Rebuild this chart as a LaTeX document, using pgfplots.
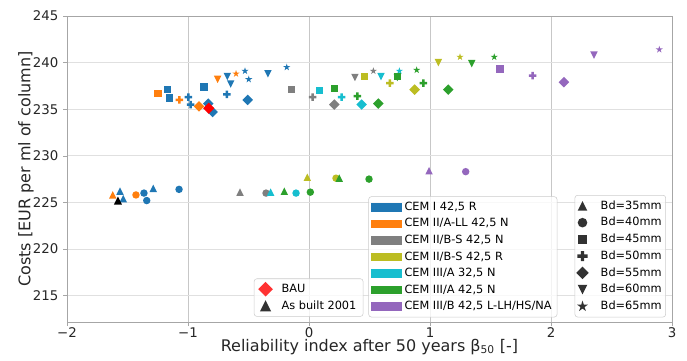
\documentclass[border=0pt]{standalone}
\usepackage{fontspec}
\setmainfont{DejaVu Sans}
\usepackage{pgfplots}
\pgfplotsset{compat=1.18}
\definecolor{tabblue}{HTML}{1F77B4}
\definecolor{taborange}{HTML}{FF7F0E}
\definecolor{tabgray}{HTML}{7F7F7F}
\definecolor{tabolive}{HTML}{BCBD22}
\definecolor{tabcyan}{HTML}{17BECF}
\definecolor{tabgreen}{HTML}{2CA02C}
\definecolor{tabpurple}{HTML}{9467BD}

\pgfdeclareplotmark{mtri}{%
  \pgfpathmoveto{\pgfqpoint{0pt}{\pgfplotmarksize}}%
  \pgfpathlineto{\pgfqpoint{-\pgfplotmarksize}{-\pgfplotmarksize}}%
  \pgfpathlineto{\pgfqpoint{\pgfplotmarksize}{-\pgfplotmarksize}}%
  \pgfpathclose\pgfusepathqfill}
\pgfdeclareplotmark{mtridown}{%
  \pgfpathmoveto{\pgfqpoint{0pt}{-\pgfplotmarksize}}%
  \pgfpathlineto{\pgfqpoint{-\pgfplotmarksize}{\pgfplotmarksize}}%
  \pgfpathlineto{\pgfqpoint{\pgfplotmarksize}{\pgfplotmarksize}}%
  \pgfpathclose\pgfusepathqfill}
\pgfdeclareplotmark{msq}{%
  \pgfpathrectanglecorners{\pgfqpoint{-\pgfplotmarksize}{-\pgfplotmarksize}}{\pgfqpoint{\pgfplotmarksize}{\pgfplotmarksize}}%
  \pgfusepathqfill}
\pgfdeclareplotmark{mcirc}{%
  \pgfpathcircle{\pgfpointorigin}{\pgfplotmarksize}\pgfusepathqfill}
\pgfdeclareplotmark{mdiam}{%
  \pgfpathmoveto{\pgfqpoint{0pt}{1.414\pgfplotmarksize}}%
  \pgfpathlineto{\pgfqpoint{1.414\pgfplotmarksize}{0pt}}%
  \pgfpathlineto{\pgfqpoint{0pt}{-1.414\pgfplotmarksize}}%
  \pgfpathlineto{\pgfqpoint{-1.414\pgfplotmarksize}{0pt}}%
  \pgfpathclose\pgfusepathqfill}
\pgfdeclareplotmark{mplus}{%
  \pgfpathmoveto{\pgfqpoint{-0.333\pgfplotmarksize}{\pgfplotmarksize}}%
  \pgfpathlineto{\pgfqpoint{0.333\pgfplotmarksize}{\pgfplotmarksize}}%
  \pgfpathlineto{\pgfqpoint{0.333\pgfplotmarksize}{0.333\pgfplotmarksize}}%
  \pgfpathlineto{\pgfqpoint{\pgfplotmarksize}{0.333\pgfplotmarksize}}%
  \pgfpathlineto{\pgfqpoint{\pgfplotmarksize}{-0.333\pgfplotmarksize}}%
  \pgfpathlineto{\pgfqpoint{0.333\pgfplotmarksize}{-0.333\pgfplotmarksize}}%
  \pgfpathlineto{\pgfqpoint{0.333\pgfplotmarksize}{-\pgfplotmarksize}}%
  \pgfpathlineto{\pgfqpoint{-0.333\pgfplotmarksize}{-\pgfplotmarksize}}%
  \pgfpathlineto{\pgfqpoint{-0.333\pgfplotmarksize}{-0.333\pgfplotmarksize}}%
  \pgfpathlineto{\pgfqpoint{-\pgfplotmarksize}{-0.333\pgfplotmarksize}}%
  \pgfpathlineto{\pgfqpoint{-\pgfplotmarksize}{0.333\pgfplotmarksize}}%
  \pgfpathlineto{\pgfqpoint{-0.333\pgfplotmarksize}{0.333\pgfplotmarksize}}%
  \pgfpathclose\pgfusepathqfill}
\pgfdeclareplotmark{mstar}{%
  \pgfpathmoveto{\pgfqpointpolar{90}{\pgfplotmarksize}}%
  \pgfpathlineto{\pgfqpointpolar{126}{0.382\pgfplotmarksize}}%
  \pgfpathlineto{\pgfqpointpolar{162}{\pgfplotmarksize}}%
  \pgfpathlineto{\pgfqpointpolar{198}{0.382\pgfplotmarksize}}%
  \pgfpathlineto{\pgfqpointpolar{234}{\pgfplotmarksize}}%
  \pgfpathlineto{\pgfqpointpolar{270}{0.382\pgfplotmarksize}}%
  \pgfpathlineto{\pgfqpointpolar{306}{\pgfplotmarksize}}%
  \pgfpathlineto{\pgfqpointpolar{342}{0.382\pgfplotmarksize}}%
  \pgfpathlineto{\pgfqpointpolar{18}{\pgfplotmarksize}}%
  \pgfpathlineto{\pgfqpointpolar{54}{0.382\pgfplotmarksize}}%
  \pgfpathclose\pgfusepathqfill}

\newcommand{\pts}[3]{\addplot[only marks, mark=#2, color=#1, mark size=2.8pt, forget plot] coordinates {#3};}

\pgfplotsset{
  patch/.style={legend image code/.code={\fill[#1, sharp corners, fill opacity=1] (0pt,-2.8pt) rectangle (22.5pt,2.8pt);}},
  mylegend/.style={legend style={font=\fontsize{8.5}{10}\selectfont, draw=black!20, rounded corners=2pt,
      fill=white, fill opacity=0.8, draw opacity=1, text opacity=1, row sep=0.6pt, inner xsep=2pt, inner ysep=2pt}},
  base/.style={scale only axis, width=453.75pt, height=229.5pt, xmin=-2, xmax=3, ymin=212.17, ymax=245},
}

\begin{document}
\begin{tikzpicture}
\begin{axis}[base, name=main,
  xtick={-2,-1,0,1,2,3}, xticklabels={−2,−1,0,1,2,3},
  ytick={215,220,225,230,235,240,245},
  /pgf/number format/assume math mode=true,
  tick label style={font=\fontsize{10}{12}\selectfont, text=black!85},
  xticklabel style={yshift=2pt},
  label style={font=\fontsize{12}{14}\selectfont, text=black!85},
  xlabel={Reliability index after 50 years β\textsubscript{50} [-]},
  ylabel={Costs [EUR per ml of column]},
  xlabel style={yshift=6pt},
  ylabel style={yshift=-7.5pt},
  xmajorgrids, ymajorgrids,
  x grid style={black!22, line width=0.6pt},
  y grid style={black!12, line width=0.6pt},
  axis line style={black!35},
  tick align=outside, major tick length=3pt, tick style={black!35},
  xtick pos=bottom, ytick pos=left,
  legend cell align=left,
  mylegend,
  legend style={at={(0.8104,0.0154)}, anchor=south east},
]
% CEM I 42,5 R
\pts{tabblue}{mtri}{(-1.562,226.2) (-1.535,225.4) (-1.287,226.5)}
\pts{tabblue}{mcirc}{(-1.364,226.0) (-1.341,225.2) (-1.074,226.4)}
\pts{tabblue}{msq}{(-1.171,237.1) (-1.154,236.2) (-0.868,237.4)}
\pts{tabblue}{mplus}{(-0.997,236.3) (-0.978,235.5) (-0.678,236.6)}
\pts{tabblue}{mdiam}{(-0.832,235.6) (-0.796,234.7) (-0.507,236.0)}
\pts{tabblue}{mtridown}{(-0.675,238.5) (-0.647,237.7) (-0.339,238.8)}
\pts{tabblue}{mstar}{(-0.529,239.1) (-0.498,238.2) (-0.184,239.5)}
% CEM II/A-LL 42,5 N
\pts{taborange}{mtri}{(-1.622,225.8)}
\pts{taborange}{mcirc}{(-1.430,225.8)}
\pts{taborange}{msq}{(-1.248,236.7)}
\pts{taborange}{mplus}{(-1.072,236.0)}
\pts{taborange}{mdiam}{(-0.909,235.3)}
\pts{taborange}{mtridown}{(-0.755,238.2)}
\pts{taborange}{mstar}{(-0.603,238.8)}
% CEM II/B-S 42,5 N
\pts{tabgray}{mtri}{(-0.570,226.1)}
\pts{tabgray}{mcirc}{(-0.355,226.0)}
\pts{tabgray}{msq}{(-0.143,237.1)}
\pts{tabgray}{mplus}{(0.030,236.3)}
\pts{tabgray}{mdiam}{(0.209,235.5)}
\pts{tabgray}{mtridown}{(0.380,238.4)}
\pts{tabgray}{mstar}{(0.532,239.1)}
% CEM II/B-S 42,5 R
\pts{tabolive}{mtri}{(-0.014,227.7)}
\pts{tabolive}{mcirc}{(0.223,227.6)}
\pts{tabolive}{msq}{(0.457,238.5)}
\pts{tabolive}{mplus}{(0.669,237.8)}
\pts{tabolive}{mdiam}{(0.873,237.1)}
\pts{tabolive}{mtridown}{(1.069,240.0)}
\pts{tabolive}{mstar}{(1.248,240.6)}
% CEM III/A 32,5 N
\pts{tabcyan}{mtri}{(-0.317,226.1)}
\pts{tabcyan}{mcirc}{(-0.107,226.0)}
\pts{tabcyan}{msq}{(0.085,237.0)}
\pts{tabcyan}{mplus}{(0.270,236.3)}
\pts{tabcyan}{mdiam}{(0.435,235.5)}
\pts{tabcyan}{mtridown}{(0.595,238.5)}
\pts{tabcyan}{mstar}{(0.747,239.1)}
% CEM III/A 42,5 N
\pts{tabgreen}{mtri}{(-0.204,226.2) (0.250,227.6)}
\pts{tabgreen}{mcirc}{(0.011,226.1) (0.496,227.5)}
\pts{tabgreen}{mtridown}{(0.730,238.4) (1.345,239.9)}
\pts{tabgreen}{msq}{(0.209,237.2) (0.730,238.5)}
\pts{tabgreen}{mplus}{(0.399,236.4) (0.945,237.8)}
\pts{tabgreen}{mdiam}{(0.573,235.6) (1.151,237.1)}
\pts{tabgreen}{mstar}{(0.890,239.2) (1.531,240.6)}
% CEM III/B 42,5 L-LH/HS/NA
\pts{tabpurple}{mtri}{(0.992,228.4)}
\pts{tabpurple}{mcirc}{(1.295,228.3)}
\pts{tabpurple}{msq}{(1.579,239.3)}
\pts{tabpurple}{mplus}{(1.849,238.6)}
\pts{tabpurple}{mdiam}{(2.107,237.9)}
\pts{tabpurple}{mtridown}{(2.355,240.8)}
\pts{tabpurple}{mstar}{(2.895,241.4)}
% BAU and as built
\addplot[only marks, mark=mdiam, color=red, mark size=3pt, forget plot] coordinates {(-0.829,235.1)};
\addplot[only marks, mark=mtri, color=black, mark size=3pt, forget plot] coordinates {(-1.579,225.2)};

\addlegendimage{patch=tabblue}\addlegendentry{CEM I 42,5 R}
\addlegendimage{patch=taborange}\addlegendentry{CEM II/A-LL 42,5 N}
\addlegendimage{patch=tabgray}\addlegendentry{CEM II/B-S 42,5 N}
\addlegendimage{patch=tabolive}\addlegendentry{CEM II/B-S 42,5 R}
\addlegendimage{patch=tabcyan}\addlegendentry{CEM III/A 32,5 N}
\addlegendimage{patch=tabgreen}\addlegendentry{CEM III/A 42,5 N}
\addlegendimage{patch=tabpurple}\addlegendentry{CEM III/B 42,5 L-LH/HS/NA}
\end{axis}

\begin{axis}[base, hide axis, mylegend, legend cell align=left,
  legend style={at={(0.4898,0.0174)}, anchor=south east, inner xsep=3pt,
    /tikz/every odd column/.append style={column sep=4.5pt}}]
\addlegendimage{only marks, mark=mdiam, color=red, mark size=3.9pt}\addlegendentry{BAU}
\addlegendimage{only marks, mark=mtri, color=black, mark size=4.2pt}\addlegendentry{As built 2001}
\end{axis}

\begin{axis}[base, hide axis, mylegend, legend cell align=left,
  legend style={at={(0.990,0.0154)}, anchor=south east, inner xsep=1pt,
    /tikz/every odd column/.append style={column sep=7pt}}]
\addlegendimage{only marks, mark=mtri, black, mark size=3.6pt}\addlegendentry{Bd=35mm}
\addlegendimage{only marks, mark=mcirc, black, mark size=3.6pt}\addlegendentry{Bd=40mm}
\addlegendimage{only marks, mark=msq, black, mark size=3.5pt}\addlegendentry{Bd=45mm}
\addlegendimage{only marks, mark=mplus, black, mark size=3.8pt}\addlegendentry{Bd=50mm}
\addlegendimage{only marks, mark=mdiam, black, mark size=3.3pt}\addlegendentry{Bd=55mm}
\addlegendimage{only marks, mark=mtridown, black, mark size=3.6pt}\addlegendentry{Bd=60mm}
\addlegendimage{only marks, mark=mstar, black, mark size=4.3pt}\addlegendentry{Bd=65mm}
\end{axis}

\pgfresetboundingbox
\path (main.south west) ++(-50.25pt,-28.5pt) coordinate (bl);
\path (main.north east) ++(11.25pt,12pt) coordinate (tr);
\useasboundingbox (bl) rectangle (tr);
\end{tikzpicture}
\end{document}
